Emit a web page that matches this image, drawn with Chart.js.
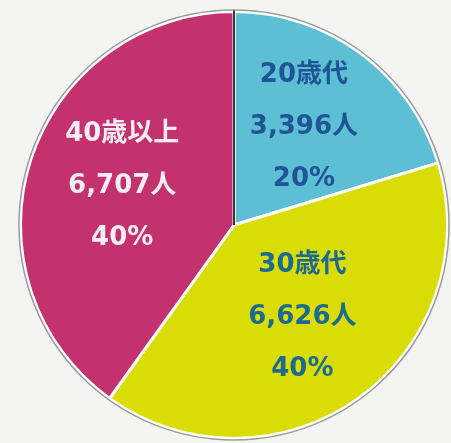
<!DOCTYPE html>
<html>
<head>
<meta charset="utf-8">
<script src="https://cdn.jsdelivr.net/npm/chart.js@4"></script>
<style>
  html, body { margin: 0; padding: 0; background: #f4f5f3; }
  #wrap { width: 451px; height: 443px; position: relative; }
</style>
</head>
<body>
<div id="wrap"><canvas id="c" width="451" height="443"></canvas></div>
<script>
const categories = ['20歳代', '30歳代', '40歳以上'];
const counts = [3396, 6626, 6707];
const percentLabels = ['20%', '40%', '40%'];

const sliceColors = ['#5cbfd4', '#d9dc05', '#c4316f'];
const textColors = ['#1f5596', '#1c6a90', '#f7eef3'];

const labelPlugin = {
  id: 'sliceLabels',
  afterDatasetsDraw(chart) {
    const ctx = chart.ctx;
    const meta = chart.getDatasetMeta(0);
    if (meta.data.length) {
      const a0 = meta.data[0];
      ctx.save();
      // outer grey ring
      ctx.beginPath();
      ctx.arc(a0.x, a0.y, a0.outerRadius + 1.5, 0, Math.PI * 2);
      ctx.strokeStyle = '#9a9c9c';
      ctx.lineWidth = 1.5;
      ctx.stroke();
      // dark seam at the start of the first slice
      ctx.beginPath();
      ctx.moveTo(a0.x, a0.y);
      ctx.lineTo(a0.x + Math.cos(a0.startAngle) * (a0.outerRadius + 1),
                 a0.y + Math.sin(a0.startAngle) * (a0.outerRadius + 1));
      ctx.strokeStyle = '#3a3a3a';
      ctx.lineWidth = 2;
      ctx.stroke();
      ctx.restore();
    }
    meta.data.forEach((arc, i) => {
      const mid = (arc.startAngle + arc.endAngle) / 2;
      const r = arc.outerRadius * 0.55;
      const x = arc.x + Math.cos(mid) * r;
      const y = arc.y + Math.sin(mid) * r;
      const lines = [categories[i], counts[i].toLocaleString('en-US') + '人', percentLabels[i]];
      ctx.save();
      ctx.font = 'bold 26px "DejaVu Sans", "Noto Sans CJK JP", sans-serif';
      ctx.fillStyle = textColors[i];
      ctx.textAlign = 'center';
      ctx.textBaseline = 'middle';
      const gap = 52;
      lines.forEach((t, k) => ctx.fillText(t, x, y - 3 + (k - 1) * gap));
      ctx.restore();
    });
  }
};

new Chart(document.getElementById('c'), {
  type: 'pie',
  data: {
    labels: categories,
    datasets: [{
      data: counts,
      backgroundColor: sliceColors,
      borderColor: '#ffffff',
      borderWidth: 3
    }]
  },
  options: {
    responsive: false,
    animation: false,
    layout: { padding: { left: 19, right: 2, top: 10, bottom: 3 } },
    plugins: {
      legend: { display: false },
      tooltip: { enabled: false }
    }
  },
  plugins: [labelPlugin]
});
</script>
</body>
</html>
